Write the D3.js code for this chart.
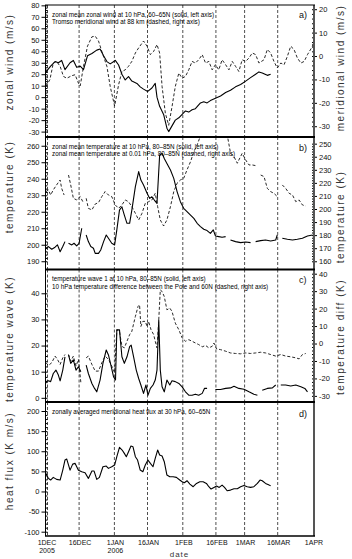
<!DOCTYPE html>
<html>
<head>
<meta charset="utf-8">
<script src="https://cdn.jsdelivr.net/npm/d3@7"></script>
<style>
    body { margin: 0; background: #fff; }
    text { font-family: "Liberation Sans", Arial, sans-serif; fill: #111; }
    .tickLab { font-size: 7.5px; }
    .axTitle { font-size: 10px; letter-spacing: 1.5px; fill: #333; }
    .legend { font-size: 6.3px; fill: #000; }
    .tag { font-size: 9px; }
    .dateLab { font-size: 7px; }
    .dateTitle { font-size: 8px; letter-spacing: 1px; fill: #333; }
</style>
</head>
<body>
<div id="chart"></div>
<script>
'use strict';

// ---- Data: [days since 1 Dec 2005, value], null = gap ----

// a) zonal mean zonal wind at 10 hPa, 60-65N (m/s, left)
const zonalWind10 = [[0,22],[2.1,27],[4.1,31],[5.6,30],[7.1,32],[8.6,24],[10.9,30],[12.4,32],[13.9,26],[15.5,27],[17,24],[18.8,36],[20.8,38],[23,41],[24.5,42],[26.1,36],[27.6,31],[29.1,29],[31.4,32],[32.9,28],[34.4,20],[35.9,15],[37.4,18],[38.9,14],[41.2,12],[42.7,9],[44.2,7],[46.1,5],[48,8],[49.5,12],[50.3,0],[51.5,-8],[53.3,-15],[54.8,-27],[55.6,-30],[57.1,-25],[58.6,-20],[60.2,-18],[61.7,-15],[63.2,-12],[64.7,-13],[66.2,-11],[67.7,-10],[70,-5],[71.5,-4],[73,-5],[74.5,-3],[76.8,-1],[79.1,1],[81.4,4],[83.6,6],[85.9,9],[88.2,11],[90.5,14],[92.7,17],[95,20],[96.5,22],[98,21],[100.3,19],[101.8,20]];

// a) Tromso meridional wind at 88 km (m/s, right)
const tromsoWind88 = [[0,-13],[1.8,-10],[3.3,-3],[4.8,-2.3],[6.4,-4.4],[7.9,-8.7],[9.4,-9.5],[11.7,-8.4],[13.2,-8],[14.7,-11.6],[15.5,-12.8],[17,-4.4],[18.8,4.2],[20.8,8.2],[22.3,8.5],[23.8,6.4],[25.3,2],[27.6,-4.4],[29.1,-13],[31.1,-21.4],[32.9,-12.3],[34.4,-6.6],[35.9,-5.9],[37.4,-4.4],[38.9,-2.3],[40.5,1.3],[42,3.5],[44.2,6.4],[45.8,4.2],[47.3,0.6],[48.8,2],[50.3,4.9],[51.5,1.3],[52.6,-13],[54.1,-24.5],[55.6,-29.6],[57.1,-21.7],[58.6,-13],[60.2,-7.3],[61.7,-9.5],[63.2,-8.7],[64.7,-5.9],[66.2,-2.3],[67.7,-3],[69.2,-1.6],[70.8,0.6],[72.3,-3],[73.8,-2.3],[75.3,-5.9],[76.8,-3.7],[78.3,-5.9],[79.8,-1.6],[81.4,-3.7],[82.9,-5.9],[84.4,-2.3],[85.9,-4.4],[87.4,-6.6],[88.9,-1.6],[90.5,-2.3],[92,-0.8],[93.5,1.3],[95,0.6],[96.5,-3],[98.8,-1.6],[100.3,2.8],[101.8,1.3],[103.3,-2.3],[104.8,-5.1],[106.4,-3],[107.9,-3.7],[109.4,-0.1],[110.9,4.2],[112.4,2.8],[113.9,-0.8],[115.5,-3],[117,-2.3],[118.5,0.6],[120.8,4.2],[121,6]];

// b) zonal mean temperature at 10 hPa, 80-85N (K, left)
const temp10 = [[0,197.9],[1.1,198.9],[2.6,197.3],[4.1,198.5],[5.2,199.9],[6.4,195.8],[7.6,198.9],[8.6,201.9],[9.4,null],[10.2,200.9],[11.7,199.9],[12.7,200.9],[13.9,199.3],[15,200.9],[16.2,210],[17,null],[18.2,205.9],[19.2,201.9],[20.3,198.9],[21.5,197.9],[22.3,194.8],[23.8,194.8],[24.8,196.8],[26.1,201.9],[27.3,205.9],[28.3,203.9],[29.8,200.9],[31.1,199.9],[32.1,209],[33.3,221],[34.4,223],[35.5,218],[36.7,213],[37.9,213],[38.9,221],[40.5,235.2],[42,244.3],[43,239.2],[44.2,236.2],[45.8,231.2],[47,228.1],[48,229.1],[49.1,227.1],[50.3,225.1],[51.5,254.4],[52.6,255.4],[53.6,252.3],[54.8,249.3],[56.4,245.3],[57.9,240.2],[59.4,232.2],[60.9,226.1],[62.4,222.1],[63.9,220.1],[65.5,218],[67,216],[68.5,213],[70,211],[71.5,209.4],[73,208.6],[74.5,206.9],[75.8,209],[76.8,205.3],[78.3,204.9],[79.8,204.5],[81.4,204.9],[82.2,null],[83.6,202.9],[85.9,201.9],[88.2,201.3],[90.5,201.7],[92.7,201.3],[93.5,null],[95,201.9],[97.3,202.5],[99.5,202.9],[101.8,202.3],[104.1,202.9],[104.8,205.9],[105.6,null],[107.1,203.9],[109.4,203.3],[111.7,202.9],[113.9,203.3],[116.2,203.9],[118.5,205.3],[120.8,205.9]];

// b) zonal mean temperature at 0.01 hPa, 80-85N (K, right)
const temp001 = [[0,213.3],[1.1,214.6],[2.1,210.7],[3.3,214.6],[4.8,218.4],[6.4,222.2],[7.1,215.8],[8.2,210.7],[9,null],[10.2,226],[11.2,218.4],[12.4,208.2],[13.9,206.9],[15.5,209.5],[16.7,205.6],[17.5,null],[18.2,208.2],[19.2,200.5],[20.8,199.3],[22.3,203.8],[23.8,204.9],[25.3,209.5],[26.8,213.3],[28.3,210.7],[29.8,209.5],[31.4,203.1],[32.9,200.5],[34.4,203.1],[35.9,206.9],[37.4,205.6],[38.9,201.8],[40.5,196.7],[42,191.6],[43.5,196.7],[45,204.4],[46.5,205.6],[48,206.9],[49.5,212],[50.6,201.8],[51.8,191.6],[53.3,187],[54.8,191.6],[56.4,201.8],[57.9,213.3],[59.4,219.7],[60.9,222.2],[62.4,223.5],[63.9,229.9],[65.5,236.2],[67,243.9],[68.5,249],[70,256],[72,262],[75,264],[78,263],[81,259],[82.1,257],[83.6,243],[85.2,240],[86.7,235],[87.4,237.5],[88.9,242.6],[90.5,237.5],[92,233.7],[93.5,233.7],[95,233.2],[96,null],[97.3,226],[98.8,224.8],[100.3,215.8],[101.8,213.3],[103.3,212],[104.8,209.5],[106,null],[107.1,218.4],[108.6,215.8],[110.2,212],[111.7,210.7],[113.2,205.6],[114.7,206.9],[116.2,203.1],[117.7,202.3]];

// c) temperature wave 1 at 10 hPa, 80-85N (K, left)
const wave1 = [[0,6.2],[1.1,6.5],[2.1,6.2],[3.3,9.3],[4.5,10.6],[5.6,8.7],[6.4,6.5],[7.6,10.6],[8.6,15.7],[9.4,null],[10.2,16.4],[11.2,13.2],[12.4,14.5],[13.6,10.6],[14.7,11.9],[15.8,10],[17,null],[18.2,12.5],[19.2,9.3],[20.8,5.5],[22,3.6],[23,2.3],[24.5,6.8],[25.8,13.2],[27.3,18.3],[28.3,16.4],[29.4,12.5],[30.6,8.1],[31.5,6.8],[32.1,26],[33.3,26],[34.4,15.7],[35.5,13.2],[36.7,15.7],[37.9,19.6],[38.6,20.2],[39.7,15.7],[40.9,10.6],[42,7.4],[43,4.9],[44.2,1.7],[45.3,4.9],[46.2,1],[47.3,3.6],[48.5,4.9],[49.5,6.8],[50.3,10.6],[51.1,29.8],[51.8,10.6],[52.6,4.2],[53.6,2.3],[54.8,6.8],[56.1,4.9],[57.1,6.5],[58.6,6.2],[60.2,5.5],[61.7,4.2],[63.2,2.3],[64.7,1],[66.2,1],[67.7,1.4],[69.2,1],[70.8,1.7],[71.8,3.6],[73,3.6],[74,null],[76.8,3.2],[79.1,3.2],[81.4,3.6],[83.6,3.8],[85.2,4.4],[87.4,3.6],[89.7,3.3],[92,2.3],[94.2,1.4],[95.8,1],[96.5,null],[98,2.9],[100.3,3.6],[102.6,3.8],[104.1,4.9],[105,null],[106.4,4.9],[108.6,4.9],[110.9,4.5],[113.2,4.9],[115.5,4.2],[117.3,3.6],[118.5,2.3]];

// c) 10 hPa temperature difference Pole minus 60N (K, right)
const tempDiff = [[0,-11],[1.1,-12.6],[2.6,-11],[4.1,-7.2],[5.2,-9.1],[6.4,-12],[7.6,-8.2],[8.6,-6.3],[9.4,null],[10.2,-6.3],[11.2,-10.1],[12.4,-7.2],[13.6,-12.9],[14.7,-9.1],[15.8,-22.4],[17,null],[18.2,-8.2],[19.2,-7.2],[20.8,-12],[22.3,-15.8],[23.8,-15.8],[25.3,-11],[26.8,-7.2],[28.3,-9.1],[29.8,-12.9],[31.1,-16.7],[32.1,7.9],[33.3,7],[34.4,-1.6],[35.5,-2.5],[36.7,1.3],[37.9,5.1],[38.9,7],[40.5,15.5],[41.7,21.2],[42.4,22.2],[43,9.8],[43.9,12.7],[45,12.7],[45.8,9.8],[46.5,12.7],[47.6,7.9],[48.8,5.1],[49.5,1.3],[50.3,-2.5],[51.1,13.6],[51.8,30.7],[52.6,29.8],[53.6,26.9],[54.8,19.3],[56.1,20.3],[57.1,18.4],[58.6,11.7],[60.2,7.9],[61.7,3.2],[63.2,1.3],[64.7,2.2],[66.2,1.3],[67.7,0.3],[69.2,-0.6],[70.8,-1.9],[72.3,-1.1],[73.8,-2.5],[75.3,-1.6],[76.1,0.3],[77.3,-3.1],[79.1,-3.5],[81.4,-4.4],[83.6,-5.4],[85.9,-5.7],[88.2,-5.9],[90.5,-5.4],[92.7,-5.7],[95,-5.4],[97.3,-5],[99.5,-5.4],[101.8,-6.3],[104.1,-7.2],[106.4,-6.3],[108.6,-7.2],[110.9,-7.6],[113.2,-8.2],[114.7,-8.8],[116.2,-6.3],[117.7,-5.7]];

// d) zonally averaged meridional heat flux at 30 hPa, 60-65N (K m/s)
const heatFlux30 = [[0,45],[1.1,32.5],[2.1,28.4],[3.3,35],[4.8,30],[6.4,28.4],[7.6,53.2],[8.6,78.1],[9.4,80.6],[10.9,53],[12.1,68],[13.2,69.8],[14.7,53],[16.2,49],[17.7,46.6],[19.2,32.5],[20.8,50.7],[21.8,50.7],[23,30],[24.2,35],[25.8,61.5],[27.3,63.2],[28.3,57.4],[29.8,61.5],[31.1,65.7],[32.1,86.4],[33.3,109.6],[34.5,103],[35.5,94.7],[36.4,86.4],[37.4,98.8],[38.5,112.9],[39.4,111.3],[40.5,86.4],[41.5,78.1],[42.7,53.2],[43.9,49],[45,65.7],[46.2,78.1],[47.3,69.8],[48.5,61.5],[49.5,82.3],[50.6,103],[51.5,90.5],[52.6,88],[53.6,74],[54.8,40.8],[56.1,36.6],[57.6,36.6],[59.1,35],[60.6,28.4],[61.7,24.2],[62.7,21.7],[63.9,26.7],[65.2,18.4],[66.7,11.8],[68.2,20],[69.7,24.2],[71.2,24.2],[72.7,20],[73.8,11.8],[74.8,6],[76.1,10.1],[77.3,13.4],[78.5,10.1],[79.8,15.9],[80.9,10.1],[82.1,1.8],[83.6,3.4],[85.2,6.8],[86.7,6.8],[88.2,11.8],[89.7,15.1],[91.2,11.8],[92.7,10.1],[94.2,11.8],[95.8,20],[97,28.4],[98,26.7],[99.5,20],[101.1,15.9],[101.8,14.3]];

// Ticks
const dateTicks = ['2005-12-01','2005-12-16','2006-01-01','2006-01-16','2006-02-01','2006-02-16','2006-03-01','2006-03-16','2006-04-01'];
const yearTicks = ['2005-12-01','2006-01-01'];
const windTicks = [-30,-20,-10,0,10,20,30,40,50,60,70,80];
const merWindTicks = [-30,-20,-10,0,10,20];
const temp10Ticks = [190,200,210,220,230,240,250,260];
const temp001Ticks = [160,170,180,190,200,210,220,230,240,250];
const waveTicks = [0,10,20,30,40];
const diffTicks = [-30,-20,-10,0,10,20,30,40];
const fluxTicks = [-100,-50,0,50,100,150,200];

// Legends
const legendA = ['zonal mean zonal wind at 10 hPa, 60\u201365N (solid, left axis)', 'Tromso meridional wind at 88 km (dashed, right axis)'];
const legendB = ['zonal mean temperature at 10 hPa, 80\u201385N (solid, left axis)', 'zonal mean temperature at 0.01 hPa, 80\u201385N (dashed, right axis)'];
const legendC = ['temperature wave 1 at 10 hPa, 80\u201385N (solid, left axis)', '10 hPa temperature difference between the Pole and 60N (dashed, right axis)'];
const legendD = ['zonally averaged meridional heat flux at 30 hPa, 60\u201365N'];

class StackedPanels {

    constructor(_ref) {
        this.parent = _ref;
        this.initVis();
    }

    initVis() {
        // Get this vis
        const vis = this;

        // Config
        vis.w = 352;
        vis.h = 559;
        vis.xLeft = 46;
        vis.xRight = 313;
        vis.start = Date.UTC(2005, 11, 1);

        vis.svg = d3.select(`#${vis.parent}`)
            .append('svg')
            .attr('width', vis.w)
            .attr('height', vis.h);

        // Time scale
        vis.xScale = d3.scaleUtc()
            .domain([new Date(vis.start), new Date(Date.UTC(2006, 3, 1))])
            .range([vis.xLeft, vis.xRight]);

        // Panel layout (domains fit the pixel extent of each panel)
        vis.panels = [
            {tag: 'a)', top: 5, bottom: 137, legend: legendA, tagY: 18,
                left: {domain: [-34.7, 80.3], ticks: windTicks, minor: 2, title: 'zonal wind (m/s)', titleY: 62, data: zonalWind10},
                right: {domain: [-34.6, 21.8], ticks: merWindTicks, minor: 2, title: 'meridional wind (m/s)', titleY: 68, data: tromsoWind88}},
            {tag: 'b)', top: 137, bottom: 269.5, legend: legendB, tagY: 151,
                left: {domain: [185, 265.3], ticks: temp10Ticks, minor: 2, title: 'temperature (K)', titleY: 187, data: temp10},
                right: {domain: [153.7, 255.1], ticks: temp001Ticks, minor: 2, title: 'temperature (K)', titleY: 217, data: temp001}},
            {tag: 'c)', top: 269.5, bottom: 402, legend: legendC, tagY: 283,
                left: {domain: [-1.6, 49.1], ticks: waveTicks, minor: 2, title: 'temperature wave (K)', titleY: 339, data: wave1},
                right: {domain: [-33.5, 42.4], ticks: diffTicks, minor: 2, title: 'temperature diff (K)', titleY: 337, data: tempDiff}},
            {tag: 'd)', top: 402, bottom: 536, legend: legendD, tagY: 417,
                left: {domain: [-110.7, 222.4], ticks: fluxTicks, minor: 10, title: 'heat flux (K m/s)', titleY: 461, data: heatFlux30},
                right: null}
        ];

        vis.wrangleData();
    }

    wrangleData() {
        const vis = this;

        // day offsets -> dates
        const toPts = arr => arr.map(d => ({date: new Date(vis.start + d[0] * 864e5), value: d[1]}));
        vis.panels.forEach(p => {
            p.left.pts = toPts(p.left.data);
            if (p.right) p.right.pts = toPts(p.right.data);
        });

        vis.updateVis();
    }

    updateVis() {
        const vis = this;
        const parse = d3.utcParse('%Y-%m-%d');
        const tickDates = dateTicks.map(parse);

        vis.panels.forEach((p, i) => {
            const g = vis.svg.append('g').attr('class', `panel panel${i}`);

            // clip
            const clipId = `clip${i}`;
            g.append('clipPath').attr('id', clipId)
                .append('rect')
                .attr('x', vis.xLeft).attr('y', p.top)
                .attr('width', vis.xRight - vis.xLeft).attr('height', p.bottom - p.top);

            // dashed date grid
            g.selectAll('.grid')
                .data(tickDates.slice(0, -1))
                .join('line')
                .attr('class', 'grid')
                .attr('x1', d => vis.xScale(d) + (+d === vis.start ? 1.5 : 0))
                .attr('x2', d => vis.xScale(d) + (+d === vis.start ? 1.5 : 0))
                .attr('y1', p.top).attr('y2', p.bottom)
                .attr('stroke', '#222').attr('stroke-width', 0.8)
                .attr('stroke-dasharray', '3,2');

            // scales
            const yL = d3.scaleLinear().domain(p.left.domain).range([p.bottom, p.top]);
            const lineL = d3.line()
                .defined(d => d.value !== null)
                .x(d => vis.xScale(d.date))
                .y(d => yL(d.value));

            const lg = g.append('g').attr('clip-path', `url(#${clipId})`);
            lg.append('path')
                .datum(p.left.pts)
                .attr('d', lineL)
                .attr('fill', 'none').attr('stroke', '#000').attr('stroke-width', 1.1)
                .attr('stroke-linejoin', 'round');

            // left axis
            const axL = g.append('g')
                .attr('transform', `translate(${vis.xLeft - 0.5},0)`)
                .call(d3.axisLeft(yL).tickValues(p.left.ticks).tickSize(4).tickPadding(2).tickFormat(d => String(d)));
            axL.select('.domain').remove();
            axL.selectAll('text').attr('class', 'tickLab').attr('font-size', null).attr('font-family', null);
            const minL = d3.range(p.left.ticks[0], p.left.ticks[p.left.ticks.length - 1] + 0.001, p.left.minor);
            g.append('g')
                .attr('transform', `translate(${vis.xLeft - 0.5},0)`)
                .call(d3.axisLeft(yL).tickValues(minL).tickSize(-2).tickFormat(''))
                .call(a => a.select('.domain').remove());
            g.append('line')
                .attr('x1', vis.xLeft - 0.5).attr('x2', vis.xLeft - 0.5)
                .attr('y1', p.top).attr('y2', p.bottom)
                .attr('stroke', '#000').attr('stroke-width', 1);

            // left title
            vis.svg.append('text')
                .attr('class', 'axTitle')
                .attr('transform', `translate(13,${p.left.titleY}) rotate(-90)`)
                .attr('text-anchor', 'middle')
                .text(p.left.title);

            if (p.right) {
                const yR = d3.scaleLinear().domain(p.right.domain).range([p.bottom, p.top]);
                const lineR = d3.line()
                    .defined(d => d.value !== null)
                    .x(d => vis.xScale(d.date))
                    .y(d => yR(d.value));
                lg.append('path')
                    .datum(p.right.pts)
                    .attr('d', lineR)
                    .attr('fill', 'none').attr('stroke', '#111').attr('stroke-width', 0.9)
                    .attr('stroke-dasharray', '3,2');

                const axR = g.append('g')
                    .attr('transform', `translate(${vis.xRight + 1},0)`)
                    .call(d3.axisRight(yR).tickValues(p.right.ticks).tickSize(3).tickPadding(2).tickFormat(d => String(d)));
                axR.select('.domain').remove();
                axR.selectAll('text').attr('class', 'tickLab').attr('font-size', null).attr('font-family', null);
                const minR = d3.range(p.right.ticks[0], p.right.ticks[p.right.ticks.length - 1] + 0.001, p.right.minor);
                g.append('g')
                    .attr('transform', `translate(${vis.xRight + 1},0)`)
                    .call(d3.axisRight(yR).tickValues(minR).tickSize(-2).tickFormat(''))
                    .call(a => a.select('.domain').remove());

                vis.svg.append('text')
                    .attr('class', 'axTitle')
                    .attr('transform', `translate(344,${p.right.titleY}) rotate(-90)`)
                    .attr('text-anchor', 'middle')
                    .text(p.right.title);
            }

            // right frame
            g.append('line')
                .attr('x1', vis.xRight + 1).attr('x2', vis.xRight + 1)
                .attr('y1', p.top).attr('y2', p.bottom)
                .attr('stroke', '#555').attr('stroke-width', 2);

            // top frame line (thick between panels)
            g.append('line')
                .attr('x1', vis.xLeft - 1).attr('x2', vis.xRight + 2)
                .attr('y1', p.top).attr('y2', p.top)
                .attr('stroke', '#000').attr('stroke-width', i === 0 ? 1.2 : 2.2);

            // legend
            g.selectAll('.legend')
                .data(p.legend)
                .join('text')
                .attr('class', 'legend')
                .attr('x', 52)
                .attr('y', (d, j) => p.top + 11.5 + j * 7.5)
                .text(d => d);

            g.append('text')
                .attr('class', 'tag')
                .attr('x', 299)
                .attr('y', p.tagY)
                .text(p.tag);
        });

        // bottom frame
        vis.svg.append('line')
            .attr('x1', vis.xLeft - 1).attr('x2', vis.xRight + 2)
            .attr('y1', 536).attr('y2', 536)
            .attr('stroke', '#000').attr('stroke-width', 1.5);

        // date labels
        const fmt = d3.utcFormat('%-d%b');
        vis.svg.selectAll('.dateLab')
            .data(tickDates)
            .join('text')
            .attr('class', 'dateLab')
            .attr('x', d => vis.xScale(d) + 1)
            .attr('y', 545)
            .attr('text-anchor', 'middle')
            .text(d => fmt(d).toUpperCase());

        const yearDates = yearTicks.map(parse);
        vis.svg.selectAll('.yearLab')
            .data(yearDates)
            .join('text')
            .attr('class', 'dateLab yearLab')
            .attr('x', d => vis.xScale(d) + 1)
            .attr('y', 553)
            .attr('text-anchor', 'middle')
            .text(d => d3.utcFormat('%Y')(d));

        // x title, kept inside the frame
        vis.svg.append('text')
            .attr('class', 'dateTitle')
            .attr('x', (vis.xLeft + vis.xRight) / 2)
            .attr('y', 557)
            .attr('text-anchor', 'middle')
            .text('date');
    }
}

new StackedPanels('chart');
</script>
</body>
</html>
